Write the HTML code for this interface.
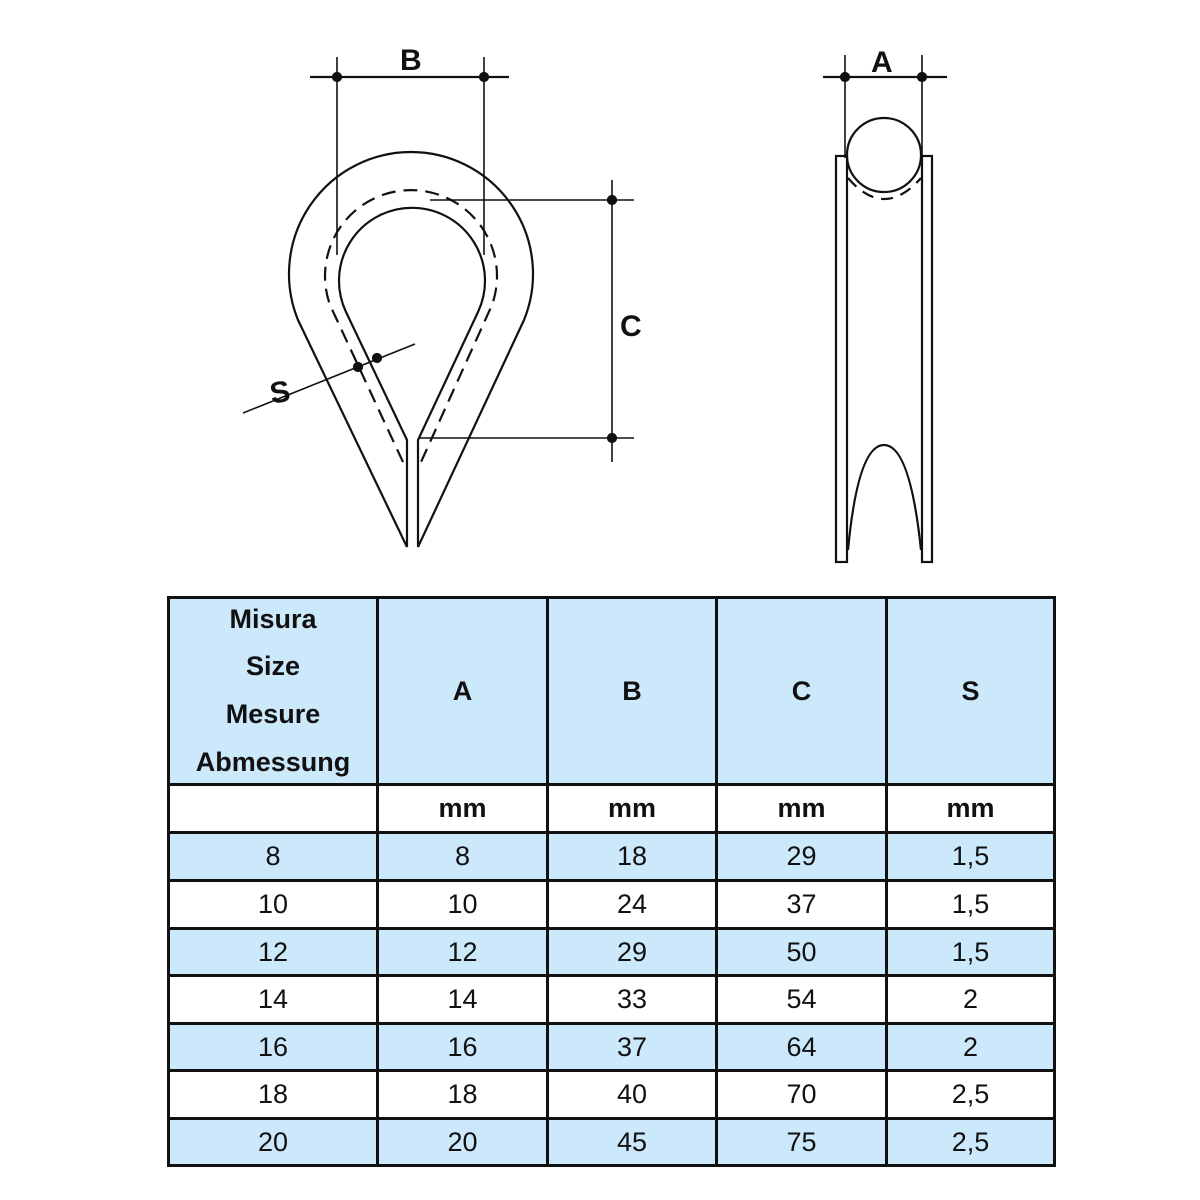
<!DOCTYPE html>
<html><head><meta charset="utf-8"><style>
body{margin:0;background:#fff;width:1200px;height:1200px;position:relative;overflow:hidden}
svg{position:absolute;left:0;top:0}
table{position:absolute;left:167px;top:596px;border-collapse:collapse;font-family:"Liberation Sans",sans-serif;font-size:27px;color:#111}
td{border:3px solid #111;text-align:center;padding:0;}
.b{background:#cce8fb}
.h{font-weight:bold}
.hd{height:184px;display:flex;flex-direction:column;justify-content:center;line-height:47.7px;overflow:visible}
</style></head><body>
<svg width="1200" height="590" viewBox="0 0 1200 590" fill="none" stroke="#111" stroke-width="2.2">
<path d="M407,547 L298,320 A122,122 0 1 1 524,320 L418,547"/>
<path d="M407,547 L407,440 L346,312 A73,73 0 1 1 478,312 L418,440 L418,547"/>
<path d="M403,462 L330,305 A86,86 0 1 1 492,305 L421,462" stroke-dasharray="14,8"/>
<line x1="310" y1="77" x2="509" y2="77"/>
<line x1="337" y1="57" x2="337" y2="255" stroke-width="1.6"/>
<line x1="484" y1="57" x2="484" y2="255" stroke-width="1.6"/>
<circle cx="337" cy="77" r="4" fill="#111"/><circle cx="484" cy="77" r="4" fill="#111"/>
<line x1="612" y1="180" x2="612" y2="462" stroke-width="1.6"/>
<line x1="430" y1="200" x2="634" y2="200" stroke-width="1.6"/>
<line x1="418" y1="438" x2="634" y2="438" stroke-width="1.6"/>
<circle cx="612" cy="200" r="4" fill="#111"/><circle cx="612" cy="438" r="4" fill="#111"/>
<line x1="243" y1="413" x2="415" y2="344" stroke-width="1.6"/>
<circle cx="358" cy="367" r="4" fill="#111"/><circle cx="377" cy="358" r="4" fill="#111"/>
<line x1="823" y1="77" x2="947" y2="77"/>
<line x1="845" y1="55" x2="845" y2="158" stroke-width="1.6"/>
<line x1="922" y1="55" x2="922" y2="158" stroke-width="1.6"/>
<circle cx="845" cy="77" r="4" fill="#111"/><circle cx="922" cy="77" r="4" fill="#111"/>
<rect x="836" y="156" width="11" height="406"/>
<rect x="922" y="156" width="10" height="406"/>
<circle cx="884" cy="155" r="37"/>
<path d="M848,178 Q884,220 921,178" stroke-dasharray="12,8"/>
<path d="M848,550 Q858,445 884,445 Q910,445 921,550"/>
<g fill="#111" stroke="none" font-family="Liberation Sans,sans-serif" font-weight="bold" font-size="30">
<text x="400" y="70">B</text><text x="871" y="72">A</text><text x="620" y="336">C</text><text x="270" y="402" transform="rotate(-10 282 392)">S</text>
</g>
</svg>
<table>
<colgroup><col style="width:209px"><col style="width:170px"><col style="width:169px"><col style="width:170px"><col style="width:168px"></colgroup>
<tr class="b h"><td><div class="hd"><div>Misura</div><div>Size</div><div>Mesure</div><div>Abmessung</div></div></td><td>A</td><td>B</td><td>C</td><td>S</td></tr>
<tr class="h" style="height:48px"><td></td><td>mm</td><td>mm</td><td>mm</td><td>mm</td></tr>
<tr class="b" style="height:48px"><td>8</td><td>8</td><td>18</td><td>29</td><td>1,5</td></tr>
<tr style="height:48px"><td>10</td><td>10</td><td>24</td><td>37</td><td>1,5</td></tr>
<tr class="b" style="height:47px"><td>12</td><td>12</td><td>29</td><td>50</td><td>1,5</td></tr>
<tr style="height:48px"><td>14</td><td>14</td><td>33</td><td>54</td><td>2</td></tr>
<tr class="b" style="height:47px"><td>16</td><td>16</td><td>37</td><td>64</td><td>2</td></tr>
<tr style="height:48px"><td>18</td><td>18</td><td>40</td><td>70</td><td>2,5</td></tr>
<tr class="b" style="height:47px"><td>20</td><td>20</td><td>45</td><td>75</td><td>2,5</td></tr>
</table>
</body></html>
